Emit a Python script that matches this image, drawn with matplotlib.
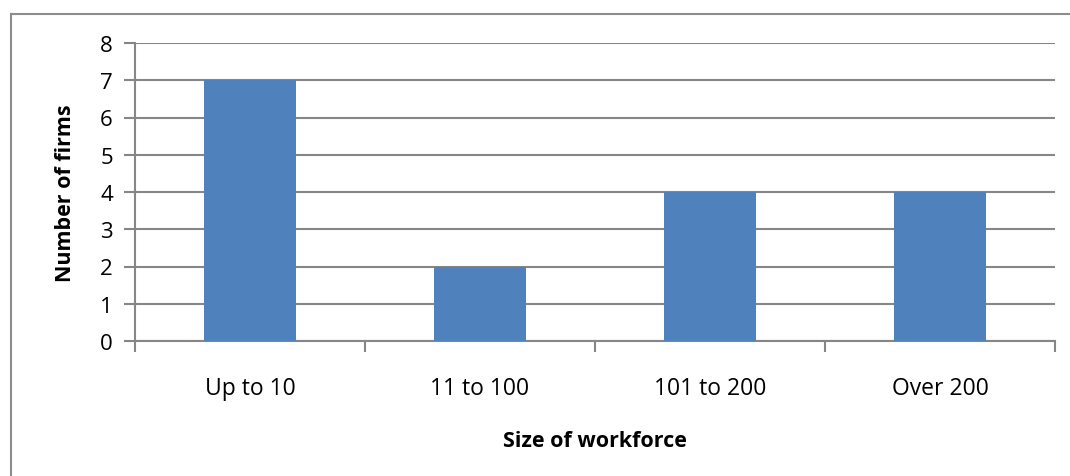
import matplotlib
matplotlib.use("Agg")
import matplotlib.pyplot as plt
from matplotlib.lines import Line2D

categories = ["Up to 10", "11 to 100", "101 to 200", "Over 200"]
values = [7, 2, 4, 4]
yticks = [0, 1, 2, 3, 4, 5, 6, 7, 8]

plt.rcParams['font.family'] = ['Open Sans', 'DejaVu Sans']
W, H = 1070, 477
fig = plt.figure(figsize=(W/100, H/100), dpi=100)
ax = fig.add_axes([135/W, 1-342/H, (1055-135)/W, (342-44)/H])

grid_c = "#868686"
x = list(range(len(categories)))
ax.bar(x, values, width=0.4, color="#4F81BD", zorder=3)
ax.set_xlim(-0.5, len(categories)-0.5)
ax.set_ylim(0, 8)
ax.set_yticks(yticks)
ax.set_yticklabels([str(t) for t in yticks], fontsize=16)
ax.yaxis.grid(True, color=grid_c, linewidth=1.5, zorder=0)
ax.set_xticks(x)
ax.set_xticklabels(categories, fontsize=16.5)
ax.tick_params(axis='x', length=0, pad=25)
ax.tick_params(axis='y', length=8, width=1.5, color=grid_c, pad=8)
# category boundary ticks
ax.set_xticks([i-0.5 for i in range(len(categories)+1)], minor=True)
ax.tick_params(axis='x', which='minor', length=8, width=1.5, color=grid_c, direction='out')
for s in ['top', 'right']:
    ax.spines[s].set_visible(False)
for s in ['left', 'bottom']:
    ax.spines[s].set_color(grid_c)
    ax.spines[s].set_linewidth(1.5)

ax.set_ylabel("Number of firms", fontsize=15.5, fontweight='bold', labelpad=17)
ax.set_xlabel("Size of workforce", fontsize=15.5, fontweight='bold', labelpad=22)

fig.add_artist(Line2D([11/W, 1.0], [1-15/H, 1-15/H], color="#8c8c8c", linewidth=1.5))
fig.add_artist(Line2D([11/W, 11/W], [1-15/H, 0], color="#8c8c8c", linewidth=1.5))

fig.savefig("out.png", dpi=100)
